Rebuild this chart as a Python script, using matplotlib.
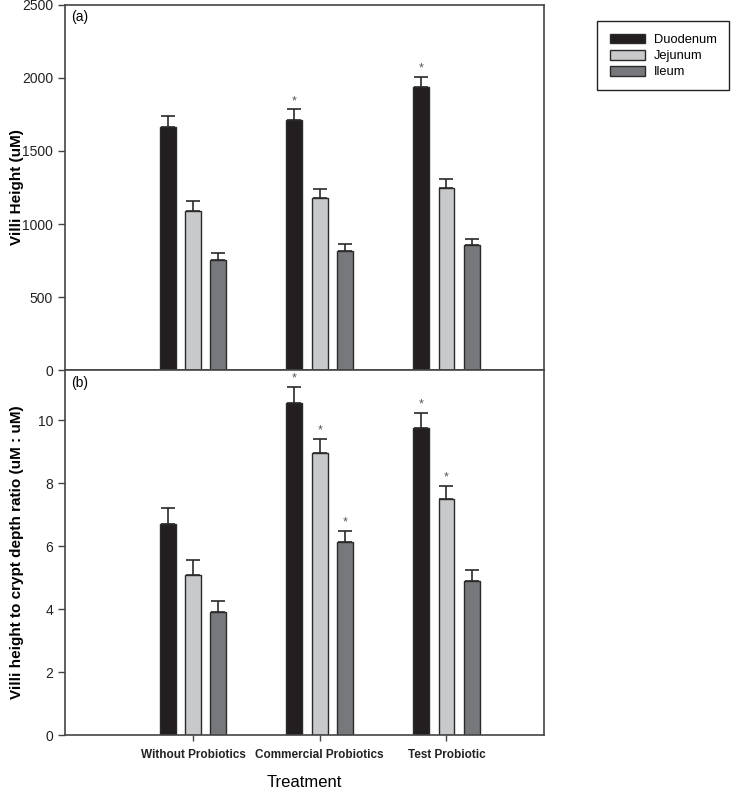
import numpy as np
import matplotlib.pyplot as plt

plt.rcParams['font.family'] = ['Liberation Sans', 'DejaVu Sans']

# data
treatments = ['Without Probiotics', 'Commercial Probiotics', 'Test Probiotic']
segments = ['Duodenum', 'Jejunum', 'Ileum']

villi_height = [[1665, 1710, 1940],   # Duodenum
                [1090, 1175, 1245],   # Jejunum
                [755, 815, 855]]      # Ileum
villi_err = [[75, 75, 70],
             [65, 65, 60],
             [45, 45, 45]]
villi_sig = [[False, True, True],
             [False, False, False],
             [False, False, False]]

ratio = [[6.7, 10.55, 9.75],
         [5.1, 8.95, 7.5],
         [3.9, 6.15, 4.9]]
ratio_err = [[0.5, 0.5, 0.5],
             [0.45, 0.45, 0.42],
             [0.35, 0.35, 0.35]]
ratio_sig = [[False, True, True],
             [False, True, True],
             [False, True, False]]

colors = ['#231f20', '#c8c9cb', '#77787b']
edge = '#2a2a2a'

fig = plt.figure(figsize=(7.31, 7.89), dpi=100)
ax1 = fig.add_axes([0.0889, 0.531, 0.6553, 0.4627])
ax2 = fig.add_axes([0.0889, 0.0684, 0.6553, 0.4626])

x = np.arange(1, len(treatments) + 1)
bw = 0.125
offs = [-0.2, 0, 0.2]


def draw(ax, vals, errs, sig, ymax, star_pad):
    for i in range(3):
        v = np.array(vals[i])
        e = np.array(errs[i])
        ax.bar(x + offs[i], v, bw, color=colors[i], edgecolor=edge, linewidth=1,
               label=segments[i], zorder=2)
        ax.errorbar(x + offs[i], v, yerr=[np.zeros_like(e), e], fmt='none',
                    ecolor=edge, elinewidth=1.2, capsize=5, capthick=1.2, zorder=3)
        for j in range(3):
            if sig[i][j]:
                ax.text(x[j] + offs[i], v[j] + e[j] + star_pad, '*', ha='center',
                        va='bottom', fontsize=9, color='#555555')
    ax.set_xlim(-0.01, 3.77)
    ax.set_ylim(0, ymax)
    for s in ax.spines.values():
        s.set_color('#444444')
        s.set_linewidth(1.2)
    ax.tick_params(axis='y', direction='out', length=5, width=1, colors='#444444',
                   labelcolor='#222222', labelsize=10)


draw(ax1, villi_height, villi_err, villi_sig, 2500, 15)
ax1.set_xticks([])
ax1.set_yticks([0, 500, 1000, 1500, 2000, 2500])
ax1.set_ylabel('Villi Height (uM)', fontsize=11, fontweight='bold')
ax1.text(0.012, 0.985, '(a)', transform=ax1.transAxes, ha='left', va='top', fontsize=10)

draw(ax2, ratio, ratio_err, ratio_sig, 11.6, 0.08)
ax2.set_yticks([0, 2, 4, 6, 8, 10])
ax2.set_xticks(x)
ax2.set_xticklabels(treatments, fontsize=8.5, fontweight='bold')
ax2.tick_params(axis='x', direction='out', length=4, width=1, colors='#444444',
                labelcolor='#222222', pad=6)
ax2.set_ylabel('Villi height to crypt depth ratio (uM : uM)', fontsize=11, fontweight='bold')
ax2.set_xlabel('Treatment', fontsize=12, labelpad=10)
ax2.text(0.012, 0.985, '(b)', transform=ax2.transAxes, ha='left', va='top', fontsize=10)
ax1.yaxis.set_label_coords(-0.085, 0.5)
ax2.yaxis.set_label_coords(-0.085, 0.5)

h, l = ax1.get_legend_handles_labels()
leg = fig.legend(h, l, loc='upper right', bbox_to_anchor=(0.997, 0.973), fontsize=9.3,
                 fancybox=False, edgecolor='#222222', handlelength=2.7, handleheight=0.8,
                 labelspacing=0.28, borderpad=0.95, handletextpad=0.7, borderaxespad=0,
                 framealpha=1)
leg.get_frame().set_linewidth(1)

fig.savefig('out.png', dpi=100)
